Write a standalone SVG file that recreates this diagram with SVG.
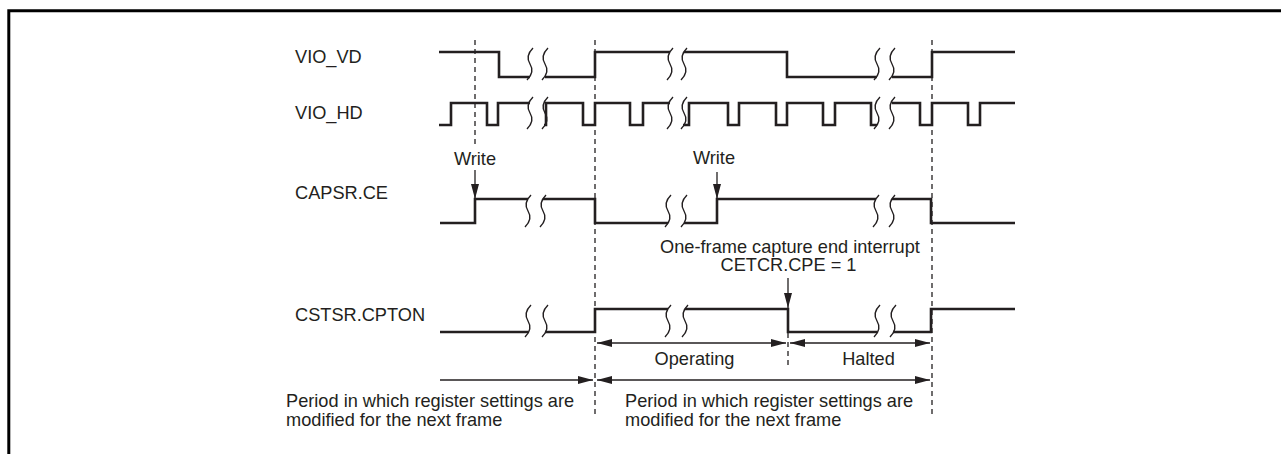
<svg xmlns="http://www.w3.org/2000/svg" width="1281" height="454" viewBox="0 0 1281 454">
<style>
text{font-family:"Liberation Sans",Arial,sans-serif;font-size:18.2px;fill:#231f20}
.mid{text-anchor:middle}
.sig{fill:none;stroke:#231f20;stroke-width:2.6;stroke-linejoin:miter}
.sq{fill:none;stroke:#231f20;stroke-width:1.4}
.dash{fill:none;stroke:#231f20;stroke-width:1.3;stroke-dasharray:5 4}
.arr{fill:none;stroke:#231f20;stroke-width:1.3}
.a1{marker-end:url(#ah)}
.a2{marker-start:url(#ah);marker-end:url(#ah)}
</style>
<defs>
<marker id="ah" markerUnits="userSpaceOnUse" markerWidth="15" markerHeight="8" refX="15" refY="4" orient="auto-start-reverse">
<path d="M0,0 L15,4 L0,8 z" fill="#231f20"/>
</marker>
<path id="sq" d="M3,0 Q-5,8 0,16 Q5,24 -3,32" class="sq"/>
</defs>
<rect width="1281" height="454" fill="#fff"/>
<path d="M8.8,454 V10.8 H1281" fill="none" stroke="#000" stroke-width="3"/>

<g id="connectors">
<line class="dash" x1="475" y1="40" x2="475" y2="146"/>
<line class="dash" x1="595" y1="40" x2="595" y2="414"/>
<line class="dash" x1="932" y1="40" x2="932" y2="414"/>
<line class="dash" x1="788" y1="333" x2="788" y2="367"/>
<line class="arr a1" x1="475" y1="170" x2="475" y2="199"/>
<line class="arr a1" x1="717" y1="172" x2="717" y2="199"/>
<line class="arr a1" x1="788" y1="278" x2="788" y2="308"/>
<line class="arr a2" x1="597" y1="343" x2="786" y2="343"/>
<line class="arr a2" x1="790" y1="343" x2="930" y2="343"/>
<line class="arr a1" x1="440" y1="380" x2="593" y2="380"/>
<line class="arr a2" x1="597" y1="380" x2="930" y2="380"/>
</g>

<g id="vio_vd">
<text x="295" y="63">VIO_VD</text>
<path class="sig" d="M439,52 H499 V77 H530 M545,77 H595 V52 H670 M684,52 H787 V77 H877 M892,77 H932 V52 H1015"/>
<use href="#sq" x="530" y="48"/><use href="#sq" x="545" y="48"/>
<use href="#sq" x="670" y="48"/><use href="#sq" x="684" y="48"/>
<use href="#sq" x="877" y="48"/><use href="#sq" x="892" y="48"/>
</g>

<g id="vio_hd">
<text x="295" y="119">VIO_HD</text>
<path class="sig" d="M439,125 H451 V103 H487 V125 H498 V103 H530 M544,125 H546 V103 H583 V125 H595 V103 H630 V125 H643 V103 H670 M683,125 H689 V103 H728 V125 H739 V103 H776 V125 H787 V103 H823 V125 H835 V103 H871 V125 H877 M892,103 H920 V125 H932 V103 H968 V125 H980 V103 H1015"/>
<use href="#sq" x="530" y="97"/><use href="#sq" x="545" y="97"/>
<use href="#sq" x="670" y="97"/><use href="#sq" x="684" y="97"/>
<use href="#sq" x="877" y="97"/><use href="#sq" x="892" y="97"/>
</g>

<g id="capsr_ce">
<text x="295" y="199">CAPSR.CE</text>
<text class="mid" x="475" y="165">Write</text>
<text class="mid" x="714" y="164">Write</text>
<path class="sig" d="M440,223 H475 V199 H528 M543,199 H595 V223 H668 M684,223 H717 V199 H876 M892,199 H931 V223 H1015"/>
<use href="#sq" x="528" y="195"/><use href="#sq" x="543" y="195"/>
<use href="#sq" x="668" y="195"/><use href="#sq" x="684" y="195"/>
<use href="#sq" x="876" y="195"/><use href="#sq" x="892" y="195"/>
</g>

<g id="interrupt">
<text class="mid" x="790" y="253">One-frame capture end interrupt</text>
<text class="mid" x="788.5" y="271">CETCR.CPE = 1</text>
</g>

<g id="cstsr_cpton">
<text x="295" y="321">CSTSR.CPTON</text>
<path class="sig" d="M440,332 H528 M545,332 H595 V309 H668 M685,309 H788 V332 H877 M893,332 H931 V309 H1015"/>
<use href="#sq" x="528" y="305"/><use href="#sq" x="545" y="305"/>
<use href="#sq" x="668" y="305"/><use href="#sq" x="685" y="305"/>
<use href="#sq" x="877" y="305"/><use href="#sq" x="893" y="305"/>
</g>

<g id="states">
<text class="mid" x="694.5" y="365">Operating</text>
<text class="mid" x="868.5" y="365">Halted</text>
</g>

<g id="period1">
<text x="286" y="407">Period in which register settings are</text>
<text x="286" y="426">modified for the next frame</text>
</g>
<g id="period2">
<text x="625" y="407">Period in which register settings are</text>
<text x="625" y="426">modified for the next frame</text>
</g>
</svg>
